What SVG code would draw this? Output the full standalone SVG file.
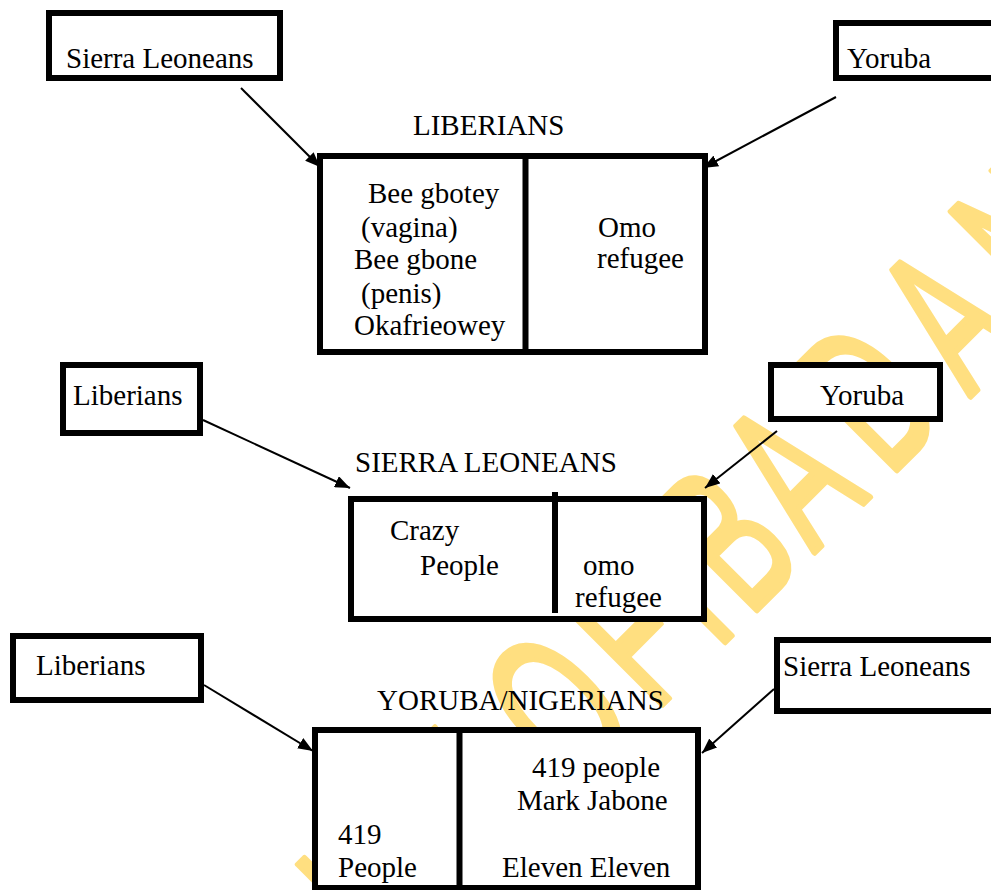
<svg xmlns="http://www.w3.org/2000/svg" width="991" height="890" viewBox="0 0 991 890">
<defs>
<style>
.bx{fill:#fff;stroke:#000;stroke-width:6}
.dv{stroke:#000;stroke-width:6}
.t{font-family:"Liberation Serif","Times New Roman",serif;font-size:29px;fill:#000}
.cn{stroke:#000;stroke-width:2;fill:none;marker-end:url(#ah)}
.wm{font-family:"Liberation Sans",Arial,sans-serif;font-size:210px;fill:#FFDF80;stroke:#FFDF80;stroke-width:5;stroke-linejoin:round;stroke-linecap:round}
</style>
<marker id="ah" markerUnits="userSpaceOnUse" markerWidth="16" markerHeight="12" refX="15" refY="6" orient="auto">
<path d="M0,0 L15,6 L0,12 z" fill="#000"/>
</marker>
</defs>
<rect width="991" height="890" fill="#fff"/>
<g id="watermark">
<text class="wm" vector-effect="non-scaling-stroke" transform="translate(842,525) rotate(-45) scale(0.58,1)" x="-2143.1 -1978.6 -1808.6 -1730.2 -1575.9 -1422.4 -1257.8 -1098.3 -1019.8 -876.7 -724.1 -650.9 -456.9 -336.2 -306.9 -226.7 -69.8 114.7 311.2 495.7 655 758.6 896.6 982.8 1137.9 1310.3 1465.5 1620.7" y="0">UNIVERSITY OF IBADAN LIBRARY</text>
</g>
<g id="connectors">
<line class="cn" x1="241" y1="88" x2="320" y2="167"/>
<line class="cn" x1="836" y1="97" x2="703" y2="168"/>
<line class="cn" x1="203" y1="420" x2="350" y2="488"/>
<line class="cn" x1="777" y1="431" x2="705" y2="488"/>
<line class="cn" x1="204" y1="685" x2="313" y2="751"/>
<line class="cn" x1="774" y1="689" x2="702" y2="753"/>
</g>
<g id="n-sl-top">
<rect class="bx" x="49" y="13" width="231" height="65"/>
<text class="t" x="66" y="68">Sierra Leoneans</text>
</g>
<g id="n-yoruba-top">
<rect class="bx" x="836" y="23" width="170" height="55"/>
<text class="t" x="847" y="68">Yoruba</text>
</g>
<g id="n-liberians-main">
<text class="t" x="413" y="135">LIBERIANS</text>
<rect class="bx" x="320" y="156" width="385" height="196"/>
<line class="dv" x1="525.5" y1="156" x2="525.5" y2="352"/>
<text class="t" x="368" y="203">Bee gbotey</text>
<text class="t" x="361" y="237">(vagina)</text>
<text class="t" x="354" y="269">Bee gbone</text>
<text class="t" x="361" y="303">(penis)</text>
<text class="t" x="354" y="335">Okafrieowey</text>
<text class="t" x="598" y="237">Omo</text>
<text class="t" x="597" y="268">refugee</text>
</g>
<g id="n-liberians-mid">
<rect class="bx" x="63" y="365" width="137" height="68"/>
<text class="t" x="73" y="405">Liberians</text>
</g>
<g id="n-yoruba-mid">
<rect class="bx" x="771" y="365" width="169" height="54"/>
<text class="t" x="820" y="405">Yoruba</text>
</g>
<g id="n-sierra-main">
<text class="t" x="355" y="472">SIERRA LEONEANS</text>
<rect class="bx" x="351" y="499" width="353" height="120"/>
<line class="dv" x1="555" y1="492" x2="555" y2="613"/>
<text class="t" x="390" y="540">Crazy</text>
<text class="t" x="420" y="575">People</text>
<text class="t" x="583" y="575">omo</text>
<text class="t" x="575" y="607">refugee</text>
</g>
<g id="n-liberians-bot">
<rect class="bx" x="13" y="636" width="188" height="64"/>
<text class="t" x="36" y="675">Liberians</text>
</g>
<g id="n-sl-bot">
<rect class="bx" x="777" y="640" width="230" height="71"/>
<text class="t" x="783" y="676">Sierra Leoneans</text>
</g>
<g id="n-yoruba-main">
<text class="t" x="377" y="710">YORUBA/NIGERIANS</text>
<rect class="bx" x="315" y="730" width="383" height="158"/>
<line class="dv" x1="459.5" y1="730" x2="459.5" y2="888"/>
<text class="t" x="338" y="844">419</text>
<text class="t" x="338" y="877">People</text>
<text class="t" x="532" y="777">419 people</text>
<text class="t" x="517" y="810">Mark Jabone</text>
<text class="t" x="502" y="877">Eleven Eleven</text>
</g>
</svg>
